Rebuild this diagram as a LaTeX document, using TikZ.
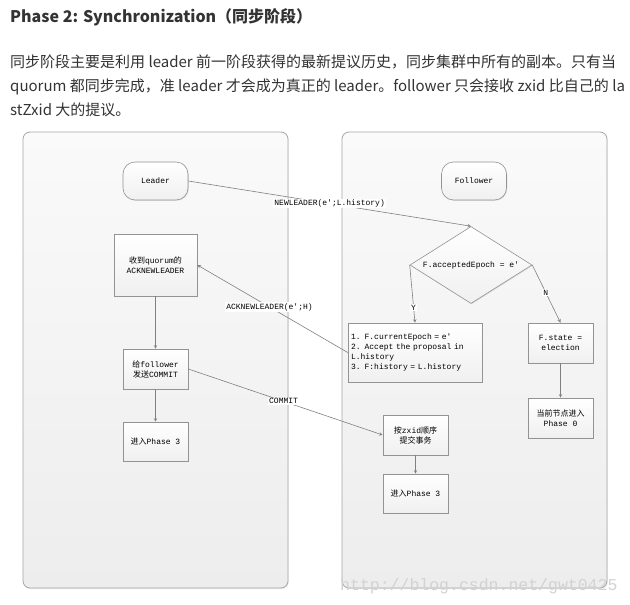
\documentclass[tikz,border=0pt]{standalone}
\usepackage{fontspec}
\usepackage{tikz}
\usetikzlibrary{positioning}
\usetikzlibrary{shapes.geometric}
\usetikzlibrary{shadows}
\usetikzlibrary{arrows}
\newfontfamily\cjk{Noto Sans CJK SC}
\newfontfamily\mono{Liberation Mono}
\newcommand{\zh}[1]{{\cjk #1}} % Chinese run inside a mono label
\definecolor{linegray}{HTML}{808080}
\definecolor{panelgray}{HTML}{EDEDED}
\definecolor{textgray}{HTML}{333333}

\tikzset{
  panel/.style={draw=gray!70, line width=0.8pt, rounded corners=7pt, top color=gray!4, bottom color=panelgray,
    drop shadow={opacity=0.15, shadow xshift=0.6pt, shadow yshift=-1pt}},
  boxbase/.style={draw=gray!85, line width=0.6pt, top color=white, bottom color=gray!12,
    font=\mono\fontsize{8}{10}\selectfont, align=center, inner sep=2pt,
    drop shadow={opacity=0.2, shadow xshift=0.8pt, shadow yshift=-0.8pt}},
  startbox/.style={boxbase, rounded corners=12pt, minimum width=65pt, minimum height=38pt},
  stepbox/.style={boxbase, minimum width=65pt, minimum height=40pt},
  decision/.style={boxbase, diamond, aspect=1.6, inner sep=0pt, minimum width=122pt, minimum height=77pt},
  flow/.style={draw=linegray, line width=0.6pt, ->, >=stealth},
  edgelabel/.style={fill=white, inner sep=1pt, font=\mono\fontsize{8}{10}\selectfont, text=black},
}

\begin{document}
\begin{tikzpicture}[x=1pt, y=-1pt]
    % Page
    \fill[white] (0,0) rectangle (630,605);
    \useasboundingbox (0,0) rectangle (630,605);

    % Heading and text
    \node[anchor=base west, inner sep=0, text=textgray, font=\cjk\bfseries\fontsize{16}{19}\selectfont] (title) at (10,23) {Phase 2: Synchronization（同步阶段）};
    \node[anchor=base west, inner sep=0, text=textgray, font=\cjk\fontsize{15}{18}\selectfont] (intro1) at (10,67) {同步阶段主要是利用 leader 前一阶段获得的最新提议历史，同步集群中所有的副本。只有当};
    \node[anchor=base west, inner sep=0, text=textgray, font=\cjk\fontsize{15}{18}\selectfont] (intro2) at (10,91) {quorum 都同步完成，准 leader 才会成为真正的 leader。follower 只会接收 zxid 比自己的 la};
    \node[anchor=base west, inner sep=0, text=textgray, font=\cjk\fontsize{15}{18}\selectfont] (intro3) at (10,115) {stZxid 大的提议。};

    % Swimlanes
    \draw[panel] (23,132) rectangle (288,588);
    \draw[panel] (342,132) rectangle (607,588);

    % Leader side
    \node[startbox] (leader) at (155.5,181) {Leader};
    \node[stepbox, minimum width=83pt, minimum height=62pt] (ack) at (155.5,265) {\zh{收到}quorum\zh{的}\\ACKNEWLEADER};
    \node[stepbox] (send) at (155.5,369) {\zh{给}follower\\\zh{发送}COMMIT};
    \node[stepbox, minimum height=39pt] (lp3) at (155.5,441.5) {\zh{进入}Phase 3};

    % Follower side
    \node[startbox] (follower) at (474,181) {Follower};
    \node[decision] (check) at (471,265) {F.acceptedEpoch = e'};
    \node[stepbox, minimum width=134pt, minimum height=59pt, text width=128pt, align=left] (apply) at (415,352.5) {1. F.currentEpoch = e'\\2. Accept the proposal in\\L.history\\3. F:history = L.history};
    \node[stepbox] (state) at (560.5,343) {F.state =\\election};
    \node[stepbox] (reset) at (560.5,418) {\zh{当前节点进入}\\Phase 0};
    \node[stepbox] (commit) at (415.5,435) {\zh{按}zxid\zh{顺序}\\\zh{提交事务}};
    \node[stepbox, minimum height=39pt] (rp3) at (415.5,493.5) {\zh{进入}Phase 3};

    % Messages and flow
    \draw[flow] (leader.east) -- node[edgelabel, pos=0.5] {NEWLEADER(e';L.history)} (check.north);
    \draw[flow] (check.west) -- node[edgelabel, pos=0.74] {Y} (apply.north);
    \draw[flow] (check.east) -- node[edgelabel, pos=0.48] {N} (state.north);
    \draw[flow] (apply.west) -- node[edgelabel, pos=0.52] {ACKNEWLEADER(e';H)} (ack.east);
    \draw[flow] (ack) -- (send);
    \draw[flow] (send) -- (lp3);
    \draw[flow] (send.east) -- node[edgelabel, pos=0.49] {COMMIT} (commit.west);
    \draw[flow] (state) -- (reset);
    \draw[flow] (commit) -- (rp3);

    % Watermark
    \node[anchor=base west, inner sep=0, text=gray!35, font=\mono\fontsize{16.5}{18}\selectfont] (mark) at (340,590) {http://blog.csdn.net/gwt0425};
\end{tikzpicture}
\end{document}
